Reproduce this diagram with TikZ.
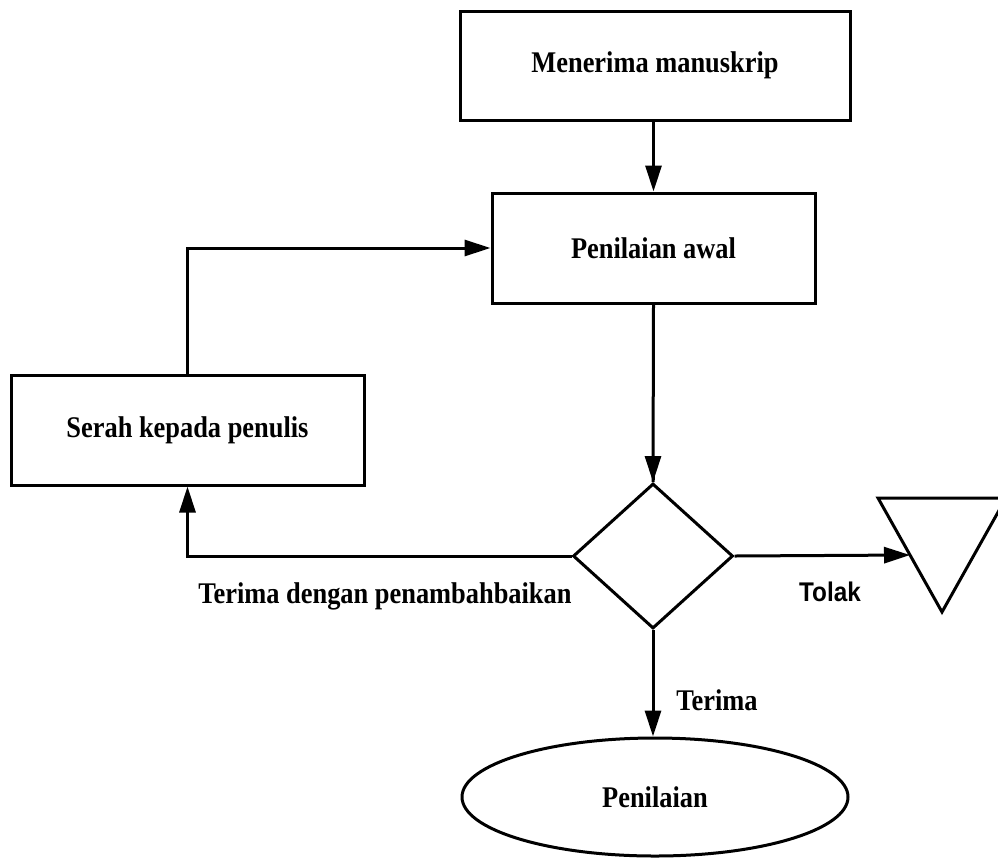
\documentclass[tikz,border=0pt]{standalone}
\usepackage{fontspec}
\setmainfont{Liberation Serif}[FakeStretch=0.88]
\newfontfamily\labelsans{Liberation Sans}[FakeStretch=0.9]
\usetikzlibrary{shapes.geometric,arrows.meta}
\begin{document}
\begin{tikzpicture}[x=1pt,y=-1pt,
  line width=3pt,
  every node/.style={font=\fontsize{30}{34}\selectfont\bfseries},
  box/.style={draw, rectangle, inner sep=0pt},
  flow/.style={-{Triangle[length=26pt,width=16pt]}},
  lbl/.style={inner sep=0pt}]
  \useasboundingbox (0,0) rectangle (998,863);
  \clip (0,0) rectangle (998,863);

  % process boxes
  \node[box, minimum width=390pt, minimum height=109pt] (terima) at (655,65.5) {Menerima manuskrip};
  \node[box, minimum width=323pt, minimum height=110pt] (awal) at (653.5,248) {Penilaian awal};
  \node[box, minimum width=353pt, minimum height=110pt] (serah) at (187.5,430) {Serah kepada penulis};

  % decision
  \node[draw, diamond, minimum width=160pt, minimum height=145pt, inner sep=0pt] (putus) at (653,556) {};

  % terminator and end symbol
  \node[draw, ellipse, minimum width=386pt, minimum height=118pt, inner sep=0pt] (nilai) at (655,797) {Penilaian};
  \draw[line join=miter] (878,498) -- (1006,498) -- (942,612) -- cycle;
  \coordinate (tolakin) at (910,555);

  % connectors
  \draw[flow] (terima.south -| awal.north) -- (awal.north);
  \draw (awal.south) -- (putus.north);
  \draw[flow] (putus.north) ++(0,-2) -- (putus.north);
  \draw[flow] (putus.east) -- (tolakin);
  \draw[flow] (putus.south) -- (putus.south |- nilai.north);
  \draw[flow] (putus.west) -- (putus.west -| serah.south) -- (serah.south);
  \draw[flow] (serah.north) -- (serah.north |- awal.west) -- (awal.west);

  % branch labels
  \node[lbl] (ldengan) at (385,596) {Terima dengan penambahbaikan};
  \node[lbl, font=\labelsans\fontsize{27}{30}\selectfont\bfseries] (ltolak) at (830,592) {Tolak};
  \node[lbl] (lterima) at (717,700) {Terima};
\end{tikzpicture}
\end{document}
